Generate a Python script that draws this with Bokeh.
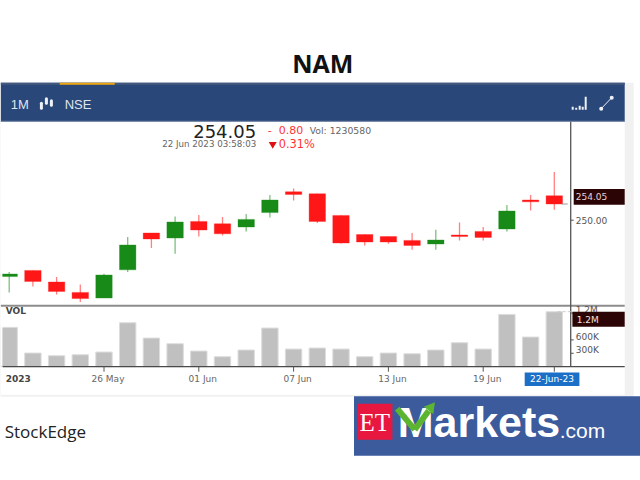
from bokeh.plotting import figure
from bokeh.models import Range1d
from bokeh.core.properties import value
from bokeh.embed import file_html
from bokeh.resources import INLINE

title = "NAM"
dates = ["22 May","23 May","24 May","25 May","26 May","29 May","30 May","31 May",
         "01 Jun","02 Jun","05 Jun","06 Jun","07 Jun","08 Jun","09 Jun","12 Jun",
         "13 Jun","14 Jun","15 Jun","16 Jun","19 Jun","20 Jun","21 Jun","22 Jun"]
opens = [235.9,237.45,234.55,231.95,230.55,237.6,246.8,245.55,249.7,249.1,248.3,251.9,
         257.1,256.6,251.2,246.4,245.9,244.95,244.05,246.3,247.2,247.8,255.05,256.1]
closes = [236.55,234.7,232.2,230.4,236.3,243.8,245.3,249.55,247.55,246.6,250.2,255.05,
          256.45,249.7,244.3,244.55,244.55,243.7,245.05,245.95,245.7,252.3,254.6,254.05]
highs = [237.05,237.45,235.8,233.9,236.6,245.8,246.8,250.95,251.3,250.8,251.55,256.3,
         257.95,256.6,251.2,246.4,245.9,246.8,247.6,249.45,248.3,253.8,256.3,262.05]
lows = [231.95,233.45,231.4,229.55,230.55,237.05,243.05,241.6,245.95,246.2,247.2,250.7,
        254.95,249.3,244.2,243.7,244.1,242.6,242.6,244.95,244.95,247.2,252.4,252.6]
volumes = [880000,306000,246000,268000,328000,984000,641000,515000,350000,224000,373000,865000,
           395000,418000,395000,224000,306000,290000,373000,537000,395000,1170000,664000,1230580]
axis_dates = ["26 May","01 Jun","07 Jun","13 Jun","19 Jun"]
price_ticks = [250.0]
price_tick_labels = ["250.00"]
vol_ticks = [300000,600000,1200000]
vol_tick_labels = ["300K","600K","1.2M"]
last_price = 254.05

FONT = "DejaVu Sans"
GREEN, RED = "#178a17", "#ff1717"
PX_PER_X = 23.7
PX_PER_PRICE = 4.0
VOL_PER_PX = 22374.0
S = 0.8   # the page lands this far right and down of the reference

p = figure(width=640, height=480, output_backend="svg", toolbar_location=None,
           x_axis_type=None, y_axis_type=None, min_border=0, outline_line_color=None,
           background_fill_color="white", border_fill_color="white",
           margin=(0, 0, 0, 0),
           x_range=Range1d((S-9.5)/PX_PER_X, (640+S-9.5)/PX_PER_X),
           y_range=Range1d(250+(220.5-480-S)/PX_PER_PRICE, 250+(220.5-S)/PX_PER_PRICE))
p.grid.visible = False
p.extra_x_ranges = {"px": Range1d(S, 640+S)}
p.extra_y_ranges = {"px": Range1d(480+S, S),
                    "vol": Range1d((-113-S)*VOL_PER_PX, (367-S)*VOL_PER_PX)}
PX = dict(x_range_name="px", y_range_name="px")

def box(x0, x1, y0, y1, color):
    p.quad(left=[x0], right=[x1], top=[y0], bottom=[y1], fill_color=color, line_color=None, **PX)

def seg(x0, y0, x1, y1, color, w=1, dash="solid", alpha=1, cap="butt"):
    p.segment([x0], [y0], [x1], [y1], line_color=color, line_width=w, line_dash=dash,
              line_alpha=alpha, line_cap=cap, **PX)

def txt(x, y, s, size, color="#555555", font=FONT, style="normal", align="left", **kw):
    p.text(x=[x], y=[y], text=[s], text_font=value(font), text_font_size=size, text_color=color,
           text_font_style=style, text_align=align, text_baseline="middle", **{**PX, **kw})

# panel chrome
box(0, 634, 83, 397, "#f1f1f1")
box(1, 625, 122, 395, "white")
box(1, 625, 83, 122, "#2a4779")
box(1, 625, 83, 85, "#44597f")
box(60, 115, 83, 85, "#eda60f")
seg(1, 121.6, 625, 121.6, "#8a9bb8", 0.8)

# title
txt(323, 63, title, "25px", "#111111", "Open Sans", "bold", "center")

# header texts and icons
txt(11, 104.8, "1M", "13px", "#dfe5ef", "Liberation Sans")
txt(65, 104.8, "NSE", "13px", "#dfe5ef", "Liberation Sans")
for x, y0, y1 in [(41.7, 103.5, 108.5), (46.7, 99, 103.5), (51.7, 101, 105.5)]:
    seg(x, y0, x, y1, "#eef2f8", 3, cap="round")
for x, y0 in [(573, 107), (576.5, 108), (580, 106), (583, 107), (586, 97)]:
    seg(x, y0, x, 110, "#eef2f8", 2)
seg(601.5, 109, 612, 98, "#eef2f8", 1)
p.scatter(x=[601.5, 612], y=[109, 98], size=4, marker="circle", fill_color="#eef2f8", line_color=None, **PX)

# quote block
txt(256.5, 131.5, "254.05", "18px", "#222222", align="right")
txt(256.5, 144, "22 Jun 2023 03:58:03", "8.7px", "#666666", align="right")
txt(268, 130, "-", "11px", "#ff3333")
txt(279, 130, "0.80", "11px", "#ff3333")
txt(279, 144.5, "0.31%", "11.4px", "#ff3333")
txt(310, 130.5, "Vol: 1230580", "9.3px", "#666666")
p.scatter(x=[273], y=[144.5], size=8, marker="inverted_triangle", fill_color="#e01010", line_color=None, **PX)

# candles
xs = list(range(len(dates)))
cols = [GREEN if c >= o else RED for o, c in zip(opens, closes)]
p.segment(xs, highs, xs, lows, line_color=cols, line_width=1.3, line_alpha=0.55)
p.vbar(x=xs, top=[max(a, b) for a, b in zip(opens, closes)], bottom=[min(a, b) for a, b in zip(opens, closes)],
       width=16.4/PX_PER_X, fill_color=cols, line_color=cols, line_alpha=0.35, line_width=1)

# volume
p.vbar(x=xs, top=volumes, bottom=0, width=16.4/PX_PER_X, fill_color="#c0c0c0",
       line_color="#dddddd", line_width=1, y_range_name="vol")

# trims the first bar at the panel's left edge
box(1, 2.7, 170, 366, "white")

# rules
seg(1, 306, 625, 306, "#8c8c8c", 2)
seg(3, 367, 625, 367, "#4a4a4a", 1.3)
seg(571, 122, 571, 367, "#555555", 1.3)
txt(6, 311.5, "VOL", "9px", "#444444", style="bold")

# x axis
for d in axis_dates:
    i = dates.index(d)
    p.segment([i], [367], [i], [372], line_color="#555555", line_width=1, y_range_name="px")
    p.text(x=[i], y=[379], text=[d], text_font=value(FONT), text_font_size="9px", text_color="#666666",
           text_align="center", text_baseline="middle", x_offset=4, y_range_name="px")
txt(6, 379, "2023", "9px", "#444444", style="bold")
p.segment([23], [367], [23], [372], line_color="#555555", line_width=1, y_range_name="px")
box(525, 579.7, 372.7, 386.3, "#1b6fc6")
txt(552.3, 379.5, "22-Jun-23", "9px", "white", align="center")

# price axis
p.segment([562], [last_price], [568], [last_price], line_color="#999999", line_width=1, x_range_name="px")
for v, s in zip(price_ticks, price_tick_labels):
    p.segment([571], [v], [574], [v], line_color="#555555", line_width=1, x_range_name="px")
    p.text(x=[576], y=[v], text=[s], text_font=value(FONT), text_font_size="9px", text_color="#555555",
           text_baseline="middle", x_range_name="px")
box(574, 625, 189.3, 205, "#2b0505")
txt(576, 197, "254.05", "9px", "#e8d2d2")

# volume axis
p.segment([558], [volumes[-1]], [571], [volumes[-1]], line_color="#cccccc", line_width=1, line_dash="3 2",
          x_range_name="px", y_range_name="vol")
for v, s in zip(vol_ticks, vol_tick_labels):
    p.segment([571], [v], [574], [v], line_color="#555555", line_width=1, x_range_name="px", y_range_name="vol")
    p.text(x=[576], y=[v], text=[s], text_font=value(FONT), text_font_size="9px", text_color="#555555",
           text_baseline="middle", y_offset=-3, x_range_name="px", y_range_name="vol")
box(572.7, 625, 312, 327, "#2b0505")
txt(577, 320, "1.2M", "9px", "#f0e0e0")

# footer
txt(5, 432, "StockEdge", "17px", "#222222", "Open Sans")
box(354.3, 640.8, 396.5, 456, "#3b5b9c")
box(357.7, 392.7, 404, 440, "#e8173f")
txt(375, 423, "ET", "25px", "white", "Liberation Serif", align="center")
txt(398, 422.5, "Markets", "43px", "white", "Liberation Sans", "bold")
txt(560, 431, ".com", "21px", "white", "Liberation Sans")
seg(397.5, 409, 415, 430, "#5cb531", 6)
seg(415, 430, 429, 411, "#5cb531", 6)
p.scatter(x=[431], y=[408], size=12, marker="triangle", angle=-0.65, fill_color="#5cb531", line_color=None, **PX)

open("out.html", "w").write(file_html(p, INLINE))
